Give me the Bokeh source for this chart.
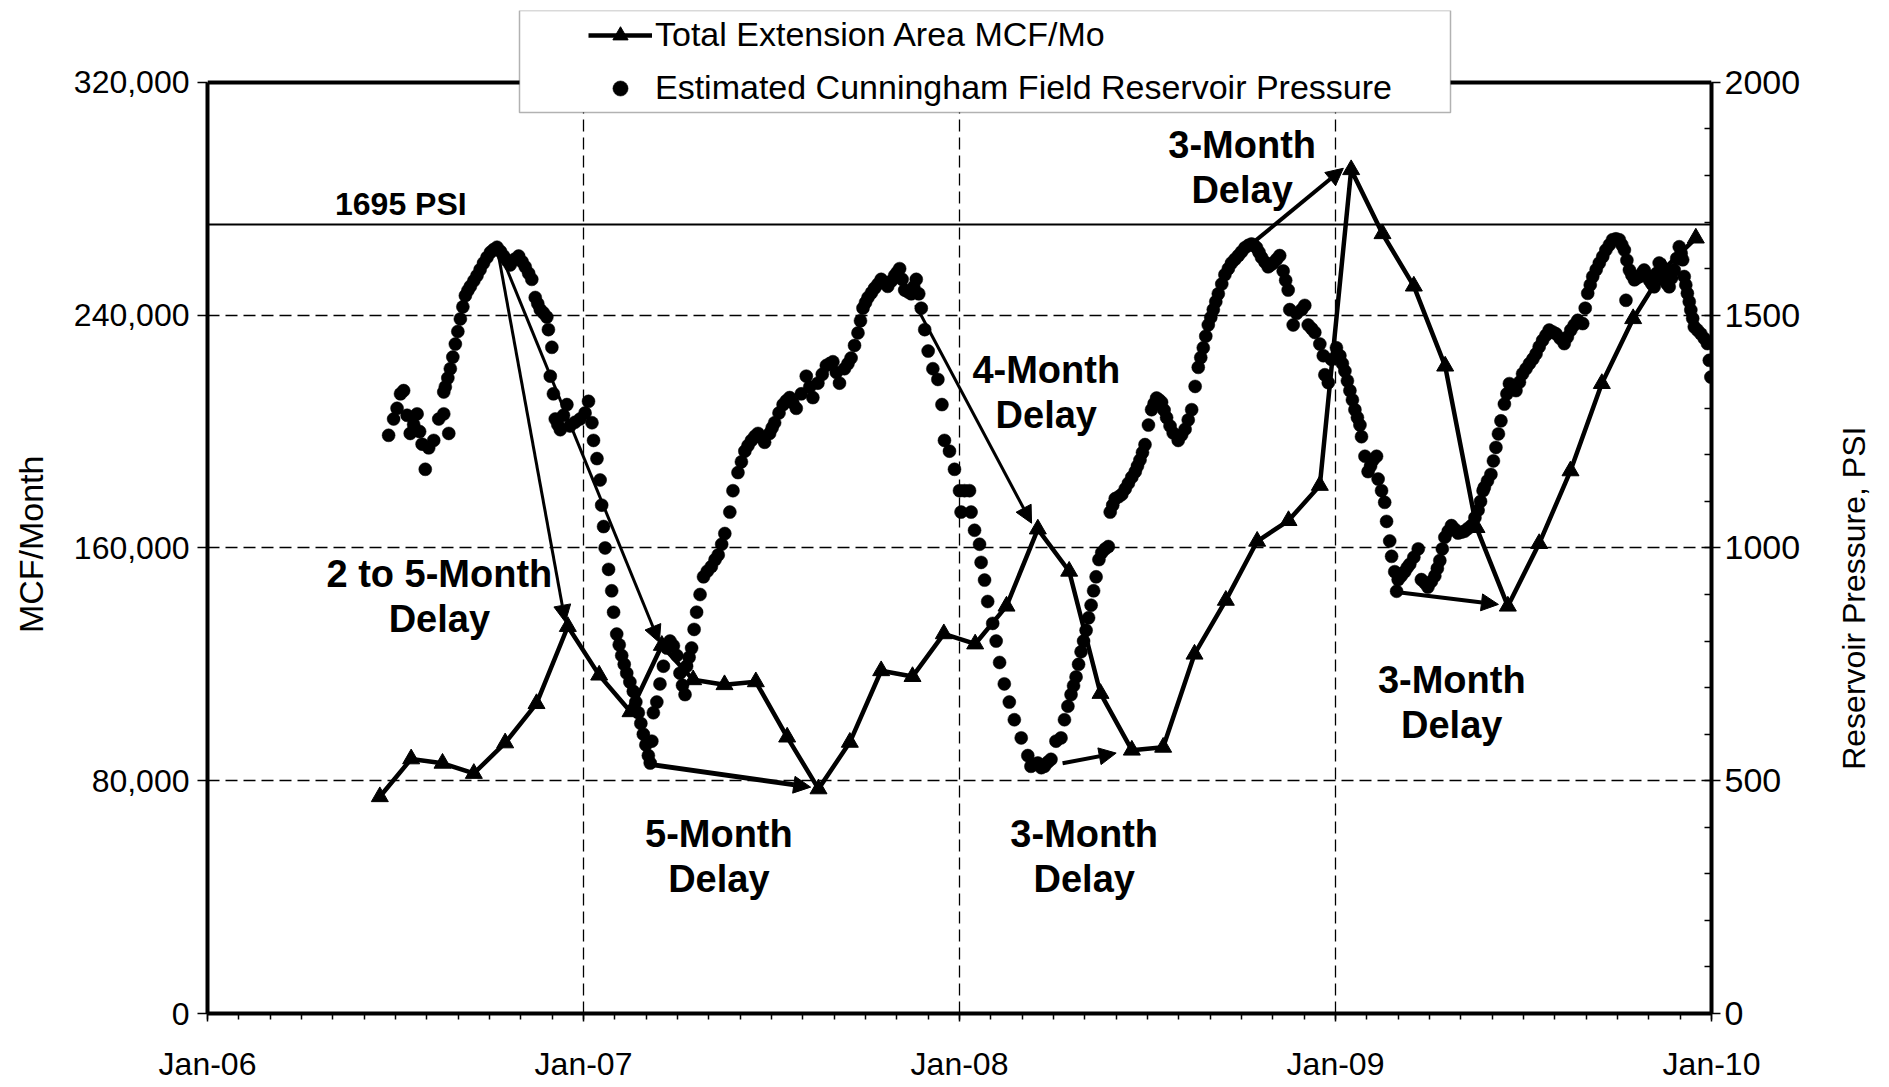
import math
from bokeh.plotting import figure
from bokeh.layouts import row
from bokeh.models import (Range1d, LinearAxis, FixedTicker, NumeralTickFormatter, Span, Label,
                          Arrow, NormalHead, Legend, LegendItem, BoxAnnotation)
from bokeh.embed import file_html
from bokeh.resources import INLINE

# ---------------- data ----------------
MONTH_NAMES = ["Jan", "Feb", "Mar", "Apr", "May", "Jun", "Jul", "Aug", "Sep", "Oct", "Nov", "Dec"]
year_ticks = [0, 12, 24, 36, 48]
year_tick_labels = ["Jan-06", "Jan-07", "Jan-08", "Jan-09", "Jan-10"]
mcf_ticks = [0, 80000, 160000, 240000, 320000]
psi_ticks = [0, 500, 1000, 1500, 2000]
left_title = "MCF/Month"
right_title = "Reservoir Pressure, PSI"

ext_months = ["Jun-06", "Jul-06", "Aug-06", "Sep-06", "Oct-06", "Nov-06", "Dec-06",
              "Jan-07", "Feb-07", "Mar-07", "Apr-07", "May-07", "Jun-07", "Jul-07", "Aug-07",
              "Sep-07", "Oct-07", "Nov-07", "Dec-07", "Jan-08", "Feb-08", "Mar-08", "Apr-08",
              "May-08", "Jun-08", "Jul-08", "Aug-08", "Sep-08", "Oct-08", "Nov-08", "Dec-08",
              "Jan-09", "Feb-09", "Mar-09", "Apr-09", "May-09", "Jun-09", "Jul-09", "Aug-09",
              "Sep-09", "Oct-09", "Nov-09", "Dec-09"]
ext_mcf = [74500, 87500, 86000, 82500, 93000, 106500, 133000,
           116300, 103700, 126500, 114700, 113000, 114000, 95000, 77200,
           93200, 117800, 115800, 130500, 127000, 140000, 166500, 152000,
           110000, 90500, 91500, 123500, 142000, 162300, 169400, 181500,
           290000, 268000, 250000, 222500, 167000, 140000, 161500, 186500,
           216500, 238800, 256000, 266500]

# pressure readings: months after Jan-2006, PSI
press_month = [
    5.78, 5.94, 6.05, 6.16, 6.26, 6.37, 6.47, 6.58, 6.69, 6.77, 6.85, 6.95, 7.06, 7.22, 7.38, 7.54, 7.70,
    7.54, 7.59, 7.67, 7.75, 7.83, 7.91, 7.99, 8.07, 8.15, 8.23, 8.31, 8.39, 8.50, 8.60, 8.70, 8.81, 8.92,
    9.03, 9.13, 9.24, 9.35, 9.45, 9.56, 9.66, 9.80, 9.93, 10.04, 10.14, 10.25, 10.35, 10.46, 10.54, 10.62,
    10.72, 10.83, 10.88, 10.99, 10.94, 11.04, 11.10, 11.18, 11.26, 11.36, 11.47, 11.57, 11.73, 11.89,
    12.05, 12.16, 12.27, 12.32, 12.43, 12.53, 12.58, 12.64, 12.69, 12.80, 12.90, 12.96, 13.06, 13.14,
    13.22, 13.30, 13.38, 13.48, 13.59, 13.67, 13.75, 13.83, 13.91, 13.99, 14.07, 14.13,
    14.18, 14.23, 14.34, 14.44, 14.55, 14.66, 14.76, 14.87, 14.98, 15.08, 15.16, 15.24, 15.29, 15.37,
    15.45, 15.53, 15.61, 15.72, 15.83,
    15.95, 16.08, 16.20, 16.30, 16.41, 16.51, 16.67, 16.77, 16.93, 17.04, 17.15, 17.25, 17.36, 17.47,
    17.57, 17.68, 17.78, 17.94, 18.02, 18.10, 18.24, 18.37, 18.47, 18.58, 18.68, 18.79, 18.95, 19.11,
    19.22, 19.32, 19.48, 19.62, 19.75, 19.86, 19.96, 20.07, 20.17, 20.33, 20.44, 20.54, 20.65, 20.76,
    20.84, 20.92, 21.00, 21.08, 21.19, 21.29, 21.40, 21.50, 21.61, 21.71, 21.82, 21.93, 22.01, 22.09,
    22.17, 22.25, 22.36, 22.46, 22.54, 22.62, 22.70, 22.78, 22.89, 23.00, 23.15, 23.31, 23.44, 23.52,
    23.68, 23.84, 24.00, 24.05, 24.16, 24.32, 24.37, 24.48, 24.64, 24.69, 24.80, 24.90, 25.06, 25.17,
    25.28, 25.43, 25.59, 25.75, 25.97, 26.18, 26.28, 26.40, 26.50, 26.61, 26.71, 26.82, 26.92, 27.08,
    27.24, 27.35, 27.46, 27.56, 27.64, 27.72, 27.80, 27.88, 27.96, 28.04, 28.12, 28.20, 28.28, 28.36,
    28.45, 28.54, 28.65, 28.75,
    28.81, 28.89, 28.97, 29.08, 29.18, 29.29, 29.39, 29.50, 29.61, 29.68, 29.76, 29.84, 29.92, 30.03,
    30.13, 30.21, 30.29, 30.37, 30.45, 30.53, 30.61, 30.72, 30.82, 30.98, 31.09, 31.20, 31.30, 31.41,
    31.52, 31.62, 31.70, 31.78, 31.86, 31.94, 32.02, 32.10, 32.18, 32.26, 32.37, 32.47, 32.58, 32.68,
    32.79, 32.90, 33.00, 33.11, 33.22, 33.32, 33.40, 33.48, 33.56, 33.64, 33.75, 33.85, 33.93, 34.01,
    34.12, 34.22, 34.33, 34.41, 34.49, 34.54, 34.65, 34.76, 34.92, 35.02, 35.13, 35.24, 35.34, 35.50,
    35.61, 35.66, 35.77, 35.87, 36.03, 36.14, 36.22, 36.30, 36.38, 36.46, 36.54, 36.62, 36.70, 36.78,
    36.83, 36.94, 37.04, 37.12, 37.20, 37.31, 37.36, 37.47, 37.57, 37.63, 37.73, 37.79, 37.89, 37.95,
    38.00, 38.10, 38.21, 38.29, 38.37, 38.50, 38.64, 38.74, 38.85, 38.95, 39.06, 39.17, 39.25, 39.33,
    39.41, 39.49, 39.60, 39.70, 39.81, 39.91, 40.02, 40.12, 40.23, 40.34, 40.45, 40.55, 40.63, 40.71,
    40.75, 40.85, 40.96, 41.04, 41.12, 41.20, 41.28, 41.39, 41.47, 41.55, 41.66, 41.76, 41.87, 41.97,
    42.08, 42.19, 42.30, 42.40, 42.50, 42.61, 42.72, 42.82, 42.93, 43.04, 43.17, 43.30, 43.40, 43.51,
    43.62, 43.73, 43.89, 43.97, 44.05, 44.13, 44.21, 44.32, 44.42, 44.53, 44.63, 44.74, 44.84, 44.95,
    45.06, 45.14, 45.22, 45.30, 45.38, 45.46, 45.54, 45.62, 45.70, 45.78, 45.85, 45.93, 46.01, 46.09,
    46.17, 46.25, 46.33, 46.41, 46.49, 46.57, 46.65, 46.73, 46.81, 46.89, 46.97, 47.03, 47.08, 47.13,
    47.18, 47.23, 47.29, 47.34, 47.40, 47.45, 47.55, 47.66, 47.77, 47.87, 47.93, 47.98, 45.27]
press_psi = [
    1242, 1277, 1300, 1331, 1338, 1285, 1246, 1265, 1288, 1250, 1223, 1169, 1215, 1231, 1277, 1288, 1246,
    1335, 1346, 1365, 1385, 1410, 1438, 1465, 1492, 1518, 1542, 1553, 1562, 1574, 1585, 1598, 1612, 1624,
    1635, 1641, 1646, 1637, 1627, 1617, 1608, 1620, 1627, 1615, 1604, 1590, 1577, 1538, 1525, 1512,
    1505, 1496, 1469, 1431, 1369, 1331, 1277, 1265, 1254, 1285, 1308, 1262, 1270, 1277,
    1290, 1315, 1269, 1231, 1192, 1146, 1092, 1046, 1000, 954, 908, 862, 815, 792,
    769, 750, 731, 712, 692, 669, 646, 623, 600, 577, 554, 538,
    585, 646, 669, 708, 746, 785, 800, 790, 769, 731, 705, 685, 746, 765,
    785, 825, 862, 900, 938,
    950, 960, 975, 985, 1008, 1031, 1077, 1123, 1162, 1185, 1208, 1220, 1231, 1240,
    1246, 1237, 1227, 1246, 1258, 1269, 1290, 1308, 1316, 1323, 1312, 1300, 1331, 1369,
    1346, 1323, 1354, 1373, 1392, 1396, 1400, 1377, 1354, 1385, 1396, 1408, 1435, 1462,
    1488, 1515, 1527, 1538, 1548, 1558, 1567, 1577, 1570, 1562, 1573, 1585, 1592, 1600,
    1577, 1554, 1550, 1546, 1561, 1577, 1546, 1515, 1469, 1423, 1385, 1362, 1308, 1231,
    1208, 1169, 1123, 1077, 1123, 1123, 1077, 1038, 1008, 969, 931, 885, 838, 800,
    754, 708, 669, 631, 592, 554, 531, 535, 538, 528, 531, 540, 546, 585,
    592, 631, 660, 685, 704, 723, 750, 777, 800, 823, 850, 877, 908, 938,
    975, 990, 998, 1003,
    1077, 1092, 1106, 1110, 1115, 1127, 1139, 1152, 1164, 1176, 1189, 1205, 1222, 1264,
    1297, 1310, 1322, 1318, 1313, 1296, 1280, 1262, 1247, 1231, 1243, 1255, 1275, 1297,
    1347, 1388, 1409, 1430, 1455, 1479, 1495, 1512, 1529, 1546, 1567, 1587, 1600, 1612,
    1620, 1628, 1636, 1645, 1650, 1653, 1650, 1645, 1635, 1624, 1614, 1604, 1608, 1612,
    1620, 1628, 1595, 1575, 1554, 1512, 1479, 1504, 1512, 1521, 1479, 1471, 1463, 1438,
    1413, 1372, 1355, 1405, 1430, 1413, 1396, 1380, 1359, 1338, 1318, 1297, 1280, 1264,
    1239, 1197, 1164, 1176, 1189, 1197, 1148, 1123, 1098, 1057, 1015, 982, 949, 907,
    932, 940, 949, 958, 965, 980, 998, 932, 925, 916, 928, 940, 956, 973,
    998, 1023, 1036, 1048, 1040, 1032, 1034, 1036, 1042, 1048, 1065, 1081, 1100, 1123,
    1130, 1144, 1158, 1187, 1216, 1245, 1273, 1309, 1331, 1353, 1345, 1338, 1356, 1374,
    1385, 1396, 1406, 1417, 1432, 1446, 1457, 1468, 1464, 1460, 1450, 1439, 1453, 1468,
    1479, 1489, 1482, 1515, 1547, 1565, 1583, 1598, 1612, 1626, 1640, 1651, 1662, 1664,
    1662, 1651, 1640, 1618, 1597, 1586, 1576, 1580, 1583, 1590, 1597, 1586, 1576, 1568,
    1561, 1590, 1612, 1594, 1576, 1568, 1561, 1580, 1597, 1622, 1647, 1633, 1619, 1583,
    1565, 1547, 1529, 1511, 1493, 1475, 1468, 1460, 1450, 1439, 1403, 1367, 1532]

threshold_psi = 1695
threshold_label = "1695 PSI"


def month_pos(lbl):
    mon, yy = lbl.split("-")
    return (int(yy) - 6) * 12 + MONTH_NAMES.index(mon) + 0.5


ext_x = [month_pos(m) for m in ext_months]

# ---------------- layout ----------------
H = 1084
LEFT_W, MAIN_W, RIGHT_W = 60, 1743, 77
FONT = "Liberation Sans"
FRAME_L, FRAME_R = 207, 1713        # plot box, px in the page
AXIS_TOP, FRAME_B = 82, 1014        # top of value axes / bottom of plot box
FRAME_T = 10                        # frame extended up so the legend box can sit over the top border
mcf_top = mcf_ticks[-1] * (FRAME_B - FRAME_T) / (FRAME_B - AXIS_TOP)
psi_top = psi_ticks[-1] * (FRAME_B - FRAME_T) / (FRAME_B - AXIS_TOP)

p = figure(width=MAIN_W, height=H, x_range=Range1d(0, 48), y_range=Range1d(0, mcf_top),
           output_backend="svg", toolbar_location=None,
           min_border_left=FRAME_L - LEFT_W, min_border_right=LEFT_W + MAIN_W - FRAME_R,
           min_border_top=FRAME_T, min_border_bottom=H - FRAME_B)
p.extra_y_ranges = {"psi": Range1d(0, psi_top)}
p.outline_line_color = None
p.background_fill_color = "white"
p.border_fill_color = "white"

# bottom axis
xa = p.xaxis[0]
xa.ticker = FixedTicker(ticks=year_ticks, minor_ticks=list(range(0, 49)))
xa.major_label_overrides = dict(zip(year_ticks, year_tick_labels))
xa.major_tick_out = 8
xa.major_tick_in = 0
xa.minor_tick_out = 6
xa.minor_tick_in = 0
xa.axis_line_width = 4
xa.major_tick_line_width = 1.5
xa.minor_tick_line_width = 1.5
xa.major_label_standoff = 24
xa.major_label_text_font = FONT
xa.major_label_text_font_size = "32px"
xa.major_label_text_color = "black"

# left axis
ya = p.yaxis[0]
ya.bounds = (0, mcf_ticks[-1])
ya.ticker = FixedTicker(ticks=mcf_ticks)
ya.formatter = NumeralTickFormatter(format="0,0")
ya.major_tick_out = 10
ya.major_tick_in = 0
ya.minor_tick_out = 0
ya.minor_tick_in = 0
ya.axis_line_width = 4
ya.major_tick_line_width = 1.5
ya.major_label_standoff = 8
ya.major_label_text_font = FONT
ya.major_label_text_font_size = "32px"
ya.major_label_text_color = "black"

# right axis
ra = LinearAxis(y_range_name="psi", bounds=(0, psi_ticks[-1]),
                ticker=FixedTicker(ticks=psi_ticks, minor_ticks=list(range(0, 2001, 100))))
ra.major_tick_out = 9
ra.major_tick_in = 0
ra.minor_tick_out = 0
ra.minor_tick_in = 7
ra.axis_line_width = 4
ra.major_tick_line_width = 1.5
ra.minor_tick_line_width = 1.5
ra.major_label_standoff = 4
ra.major_label_text_font = FONT
ra.major_label_text_font_size = "34px"
ra.major_label_text_color = "black"
p.add_layout(ra, "right")

# grids: horizontal from the axis grid, vertical drawn only up to the top border
p.ygrid.ticker = FixedTicker(ticks=mcf_ticks[1:-1])
p.ygrid.grid_line_color = "black"
p.ygrid.grid_line_dash = "12 6"
p.ygrid.grid_line_width = 1.3
p.xgrid.visible = False
grid_x = year_ticks[1:-1]
p.segment(x0=grid_x, y0=[0] * len(grid_x), x1=grid_x, y1=[mcf_ticks[-1]] * len(grid_x),
          line_color="black", line_dash="12 6", line_width=1.3)

# top border of the plot box
p.add_layout(Span(location=mcf_ticks[-1], dimension="width", line_color="black", line_width=4))

# threshold line
p.add_layout(Span(location=threshold_psi, dimension="width", y_range_name="psi",
                  line_color="black", line_width=2))
p.add_layout(Label(x=6.17, y=threshold_psi, y_range_name="psi", text=threshold_label,
                   text_align="center", text_baseline="bottom", y_offset=2,
                   text_font=FONT, text_font_size="32px", text_font_style="bold", text_color="black"))

# series
press_r = p.scatter(press_month, press_psi, y_range_name="psi", marker="circle", size=13,
                    fill_color="black", line_color="black", line_width=0.5)
ext_line = p.line(ext_x, ext_mcf, line_color="black", line_width=4.5)
ext_pts = p.scatter(ext_x, ext_mcf, marker="triangle", size=17, fill_color="black", line_color="black")

# arrows
head = dict(size=17, fill_color="black", line_color="black")
arrows = [
    ((9.24, 263400), (11.42, 134500), 3),
    ((9.29, 262800), (14.42, 127500), 3),
    ((14.0, 85800), (19.25, 77800), 5),
    ((22.6, 243500), (26.3, 168500), 3),
    ((27.29, 86000), (29.0, 89500), 4),
    ((33.32, 264500), (36.25, 290500), 4),
    ((38.0, 144800), (41.2, 140600), 4),
]
for (x0, y0), (x1, y1), lw in arrows:
    p.add_layout(Arrow(x_start=x0, y_start=y0, x_end=x1, y_end=y1, line_color="black",
                       line_width=lw, end=NormalHead(**head)))

# delay annotations
notes = [
    (["3-Month", "Delay"], 33.02, 290800),
    (["4-Month", "Delay"], 26.77, 213560),
    (["2 to 5-Month", "Delay"], 7.40, 143180),
    (["5-Month", "Delay"], 16.32, 54080),
    (["3-Month", "Delay"], 27.98, 54080),
    (["3-Month", "Delay"], 39.71, 106780),
]
for lines, xm, yc in notes:
    n = len(lines)
    for i, t in enumerate(lines):
        off = ((n - 1) / 2 - i) * 45
        p.add_layout(Label(x=xm, y=yc, text=t, text_align="center", text_baseline="middle",
                           y_offset=off, text_font=FONT, text_font_size="38px",
                           text_font_style="bold", text_color="black"))

# legend box (over the top border) and legend entries
box = BoxAnnotation(left=519 - FRAME_L, right=1450 - FRAME_L, bottom=FRAME_B - 113, top=FRAME_B - 11,
                    left_units="screen", right_units="screen", top_units="screen", bottom_units="screen",
                    fill_color="white", fill_alpha=1.0, line_color="black", line_width=1.5,
                    level="annotation")
p.add_layout(box)

legend = Legend(items=[LegendItem(label="Total Extension Area MCF/Mo", renderers=[ext_line, ext_pts]),
                       LegendItem(label="Estimated Cunningham Field Reservoir Pressure", renderers=[press_r])],
                location=(588 - FRAME_L, FRAME_B - 108), orientation="vertical", padding=0, margin=0,
                spacing=14, glyph_width=64, glyph_height=38, label_height=38, label_standoff=3,
                label_text_font=FONT, label_text_font_size="34px", label_text_color="black",
                border_line_alpha=0, background_fill_alpha=0)
p.add_layout(legend, "center")


# axis titles in narrow side panels (both read bottom-to-top, as in the original)
PANEL_FRAME_H = H - 60   # measured drawing height of the narrow panels


def title_panel(width, text, x_center, y_center_page, size):
    q = figure(width=width, height=H, x_range=Range1d(0, width), y_range=Range1d(0, H),
               output_backend="svg", toolbar_location=None,
               min_border_left=0, min_border_right=0, min_border_top=0, min_border_bottom=0,
               x_axis_location=None, y_axis_location=None)
    q.outline_line_color = None
    q.xgrid.visible = False
    q.ygrid.visible = False
    y_data = H * (1 - y_center_page / PANEL_FRAME_H)
    q.add_layout(Label(x=x_center, y=y_data, text=text, angle=math.pi / 2,
                       text_align="center", text_baseline="middle", text_font=FONT,
                       text_font_size=size, text_color="black"))
    return q


q_left = title_panel(LEFT_W, left_title, 30, 545, "34px")
q_right = title_panel(RIGHT_W, right_title, 1853 - LEFT_W - MAIN_W, 600, "32px")

layout = row(q_left, p, q_right, spacing=0)
open("out.html", "w").write(file_html(layout, INLINE))
